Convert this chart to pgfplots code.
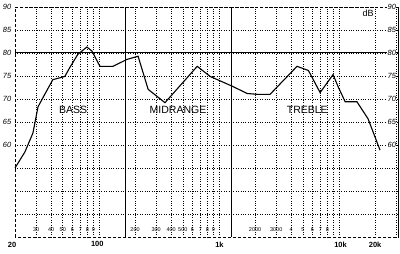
\documentclass[border=0pt]{standalone}
\usepackage{pgfplots}
\pgfplotsset{compat=1.18}
\usepackage{fontspec}
\setmainfont{Liberation Sans}
\newcommand{\lbl}{\fontsize{7.5}{8}\selectfont\itshape}
\newcommand{\sml}{\fontsize{5.5}{6}\selectfont}
\newcommand{\mainl}{\fontsize{7.5}{8}\selectfont\bfseries}
\begin{document}
\begin{tikzpicture}
\useasboundingbox (-15pt,-17pt) rectangle (385pt,237pt);
\begin{axis}[
  xmode=log, scale only axis, width=383pt, height=230pt,
  xmin=20, xmax=31000, ymin=40, ymax=90,
  xtick={100,1000,10000},
  minor xtick={30,40,50,60,70,80,90,200,300,400,500,600,700,800,900,2000,3000,4000,5000,6000,7000,8000,9000,20000,30000},
  ytick={45,50,55,60,65,70,75,80,85,90},
  xticklabels=\empty, yticklabels=\empty,
  tick style={draw=none},
  grid=both,
  major grid style={black, dotted, line width=0.6pt},
  minor grid style={black, dotted, line width=0.6pt},
  axis line style={black, densely dashed, line width=0.6pt},
  clip=false,
]
\addplot[black, line width=1pt] coordinates {(20,80) (31000,80)};
\addplot[black, line width=0.9pt] coordinates {(165,40) (165,90)};
\addplot[black, line width=0.9pt] coordinates {(1262,40) (1262,90)};
\addplot[black, line width=1.1pt] coordinates {
(20,55) (24.2,58.5) (28.2,62.6) (31.1,68.3) (34.2,70.3) (41.3,74.2) (52,74.9)
(57.4,76.9) (66.7,79.7) (79.5,81.3) (87.6,80.4) (102,77.1) (131,77.1) (171,78.6)
(212,79.3) (257,72.1) (355,69.2) (659,77.1) (845,74.9) (1310,72.7) (1716,71.2)
(2120,71.0) (2660,71.0) (4470,77.1) (5560,76.2) (6960,71.4) (8920,75.3)
(9820,72.7) (11250,69.4) (14100,69.4) (17450,65.7) (21950,58.9)};
\draw[black, line width=0.8pt] (rel axis cs:1,0) -- (rel axis cs:1,1);
% left labels
\node[font=\lbl, xshift=-8pt] at (axis cs:20,90) {90};
\node[font=\lbl, xshift=-8pt] at (axis cs:20,85) {85};
\node[font=\lbl, xshift=-8pt] at (axis cs:20,80) {80};
\node[font=\lbl, xshift=-8pt] at (axis cs:20,75) {75};
\node[font=\lbl, xshift=-8pt] at (axis cs:20,70) {70};
\node[font=\lbl, xshift=-8pt] at (axis cs:20,65) {65};
\node[font=\lbl, xshift=-8pt] at (axis cs:20,60) {60};
% right labels
\node[font=\lbl, fill=white, inner sep=0.5pt] at (axis cs:27500,90) {90};
\node[font=\lbl, fill=white, inner sep=0.5pt] at (axis cs:27500,85) {85};
\node[font=\lbl, fill=white, inner sep=0.5pt] at (axis cs:27500,80) {80};
\node[font=\lbl, fill=white, inner sep=0.5pt] at (axis cs:27500,75) {75};
\node[font=\lbl, fill=white, inner sep=0.5pt] at (axis cs:27500,70) {70};
\node[font=\lbl, fill=white, inner sep=0.5pt] at (axis cs:27500,65) {65};
\node[font=\lbl, fill=white, inner sep=0.5pt] at (axis cs:27500,60) {60};
\node[font=\fontsize{9}{10}\selectfont] at (axis cs:17500,88.6) {dB};
% band labels
\node[font=\fontsize{10.5}{12}\selectfont] at (axis cs:61,67.6) {BASS};
\node[font=\fontsize{10.5}{12}\selectfont] at (axis cs:456,67.6) {MIDRANGE};
\node[font=\fontsize{10.5}{12}\selectfont] at (axis cs:5440,67.6) {TREBLE};
% small x labels
\node[font=\sml] at (axis cs:30,41.5) {30};
\node[font=\sml] at (axis cs:40,41.5) {40};
\node[font=\sml] at (axis cs:50,41.5) {50};
\node[font=\sml] at (axis cs:60,41.5) {6};
\node[font=\sml] at (axis cs:70,41.5) {7};
\node[font=\sml] at (axis cs:80,41.5) {8};
\node[font=\sml] at (axis cs:90,41.5) {9};
\node[font=\sml] at (axis cs:200,41.5) {200};
\node[font=\sml] at (axis cs:300,41.5) {300};
\node[font=\sml] at (axis cs:400,41.5) {400};
\node[font=\sml] at (axis cs:500,41.5) {500};
\node[font=\sml] at (axis cs:600,41.5) {6};
\node[font=\sml] at (axis cs:700,41.5) {7};
\node[font=\sml] at (axis cs:800,41.5) {8};
\node[font=\sml] at (axis cs:900,41.5) {9};
\node[font=\sml] at (axis cs:2000,41.5) {2000};
\node[font=\sml] at (axis cs:3000,41.5) {3000};
\node[font=\sml] at (axis cs:4000,41.5) {4};
\node[font=\sml] at (axis cs:5000,41.5) {5};
\node[font=\sml] at (axis cs:6000,41.5) {6};
\node[font=\sml] at (axis cs:7000,41.5) {7};
\node[font=\sml] at (axis cs:8000,41.5) {8};
% main x labels
\node[font=\mainl, xshift=-3pt] at (axis cs:20,38.2) {20};
\node[font=\mainl] at (axis cs:97,38.4) {100};
\node[font=\mainl] at (axis cs:1010,38.2) {1k};
\node[font=\mainl] at (axis cs:10300,38.4) {10k};
\node[font=\mainl] at (axis cs:20000,38.4) {20k};
\end{axis}
\end{tikzpicture}
\end{document}
